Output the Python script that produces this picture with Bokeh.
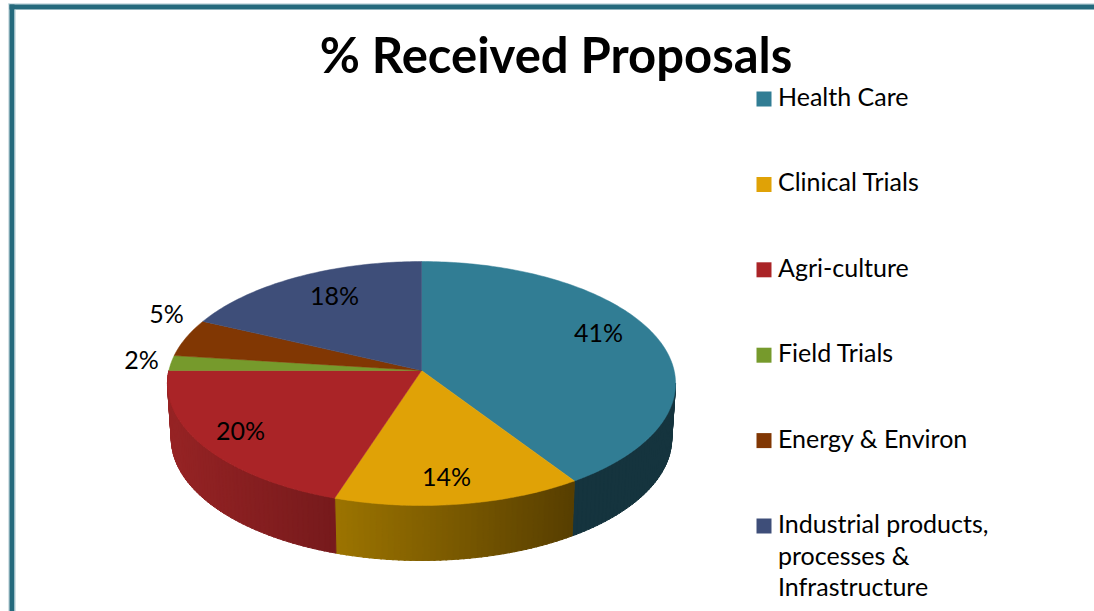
import math
from bokeh.plotting import figure
from bokeh.models import Range1d
from bokeh.core.properties import value
from bokeh.embed import file_html
from bokeh.resources import INLINE

# ---- data ----
categories = ["Health Care", "Clinical Trials", "Agri-culture", "Field Trials", "Energy & Environ",
              "Industrial products,\nprocesses &\nInfrastructure"]
shares = [40.7, 14.3, 20, 2, 5, 18]
share_labels = ["41%", "14%", "20%", "2%", "5%", "18%"]
colors = ["#317D94", "#E0A206", "#AA2427", "#769A2C", "#813703", "#3E4E79"]
side_left = ["#15343E", "#9C7400", "#962324", "#5A7520", "#6B2E02", "#303C5E"]
side_right = ["#15343E", "#573E00", "#761A1C", "#5A7520", "#6B2E02", "#303C5E"]
title = "% Received Proposals"

# ---- layout of the pie (perspective projection of a circle) ----
CX, CY = 421.0, 370.0
A, B, K = 252.6, 120.6, 0.1066
DEPTH, SHRINK = 55.0, 0.985


def top_xy(theta):
    d = 1 + K * math.cos(theta)
    return CX + A * math.sin(theta) / d, CY - B * math.cos(theta) / d


def bottom_xy(theta):
    x, y = top_xy(theta)
    return CX + (x - CX) * SHRINK, y + DEPTH


def lerp_hex(c1, c2, t):
    a = [int(c1[i:i + 2], 16) for i in (1, 3, 5)]
    b = [int(c2[i:i + 2], 16) for i in (1, 3, 5)]
    return "#%02x%02x%02x" % tuple(round(p + (q - p) * t) for p, q in zip(a, b))


p = figure(width=1094, height=611, output_backend="svg", toolbar_location=None,
           x_range=Range1d(0, 1094), y_range=Range1d(611, 0),
           x_axis_type=None, y_axis_type=None, min_border=0,
           outline_line_color=None, background_fill_color="white", border_fill_color="white",
           styles={"position": "absolute", "left": "0px", "top": "0px"})
p.grid.visible = False

# frame
p.quad(left=[8, 8], right=[1094, 9], top=[3, 3], bottom=[4, 611], fill_color="#A9C6CF", line_color=None)
p.quad(left=[9, 9], right=[1094, 14], top=[4, 4], bottom=[9, 611], fill_color="#256A7D", line_color=None)
p.quad(left=[14, 14], right=[1094, 15], top=[9, 9], bottom=[9, 611], fill_color="#A9C6CF", line_color=None)

total = sum(shares)
edges = [0.0]
for s in shares:
    edges.append(edges[-1] + s / total * 2 * math.pi)

# visible side walls, as thin strips so the shading runs left to right
sx, sy, sc = [], [], []
front_a, front_b = math.radians(96), math.radians(270)
for i in range(len(shares)):
    a0, a1 = max(edges[i], front_a), min(edges[i + 1], front_b)
    if a1 <= a0:
        continue
    n = max(2, int((a1 - a0) / math.radians(1.2)))
    x_hi = top_xy(a0)[0]
    x_lo = top_xy(a1)[0]
    for j in range(n):
        t0 = a0 + (a1 - a0) * j / n
        t1 = min(a1, a0 + (a1 - a0) * (j + 1) / n + 0.006)
        xa, ya = top_xy(t0)
        xb, yb = top_xy(t1)
        xc, yc = bottom_xy(t1)
        xd, yd = bottom_xy(t0)
        sx.append([xa, xb, xc, xd])
        sy.append([ya, yb, yc, yd])
        tt = (x_hi - (xa + xb) / 2) / max(1.0, x_hi - x_lo)
        sc.append(lerp_hex(side_right[i], side_left[i], tt))
p.patches(xs=sx, ys=sy, fill_color=sc, line_color=sc, line_width=1)

# top faces
for i in range(len(shares)):
    n = max(3, int((edges[i + 1] - edges[i]) / math.radians(1)))
    pts = [top_xy(edges[i] + (edges[i + 1] - edges[i]) * j / n) for j in range(n + 1)]
    p.patch(x=[CX] + [q[0] for q in pts], y=[CY] + [q[1] for q in pts],
            fill_color=colors[i], line_color=colors[i], line_width=0.5)

FONT = value("Lato")

# data labels
p.text(x=[598, 446, 240, 141, 166, 334], y=[331, 475, 429, 358, 312, 294], text=share_labels,
       text_font=FONT, text_font_size="25px", text_color="#000000",
       text_align="center", text_baseline="middle")

# title
p.text(x=[555.5], y=[53], text=[title], text_font=FONT, text_font_style="bold",
       text_font_size="49px", text_color="#000000", text_align="center", text_baseline="middle")

# legend
ROW0, ROW_STEP, LINE_STEP, TEXT_SHIFT = 98.0, 85.4, 31.5, -2.5
tx, ty, tt = [], [], []
for i, cat in enumerate(categories):
    yy = ROW0 + i * ROW_STEP
    p.rect(x=[763.5], y=[yy + 0.5], width=15, height=15, fill_color=colors[i], line_color=None)
    for k, line in enumerate(cat.split("\n")):
        tx.append(777.5)
        ty.append(yy + TEXT_SHIFT + k * LINE_STEP)
        tt.append(line)
p.text(x=tx, y=ty, text=tt, text_font=FONT, text_font_size="25px", text_color="#000000",
       text_align="left", text_baseline="middle")

open("out.html", "w").write(file_html(p, INLINE))
